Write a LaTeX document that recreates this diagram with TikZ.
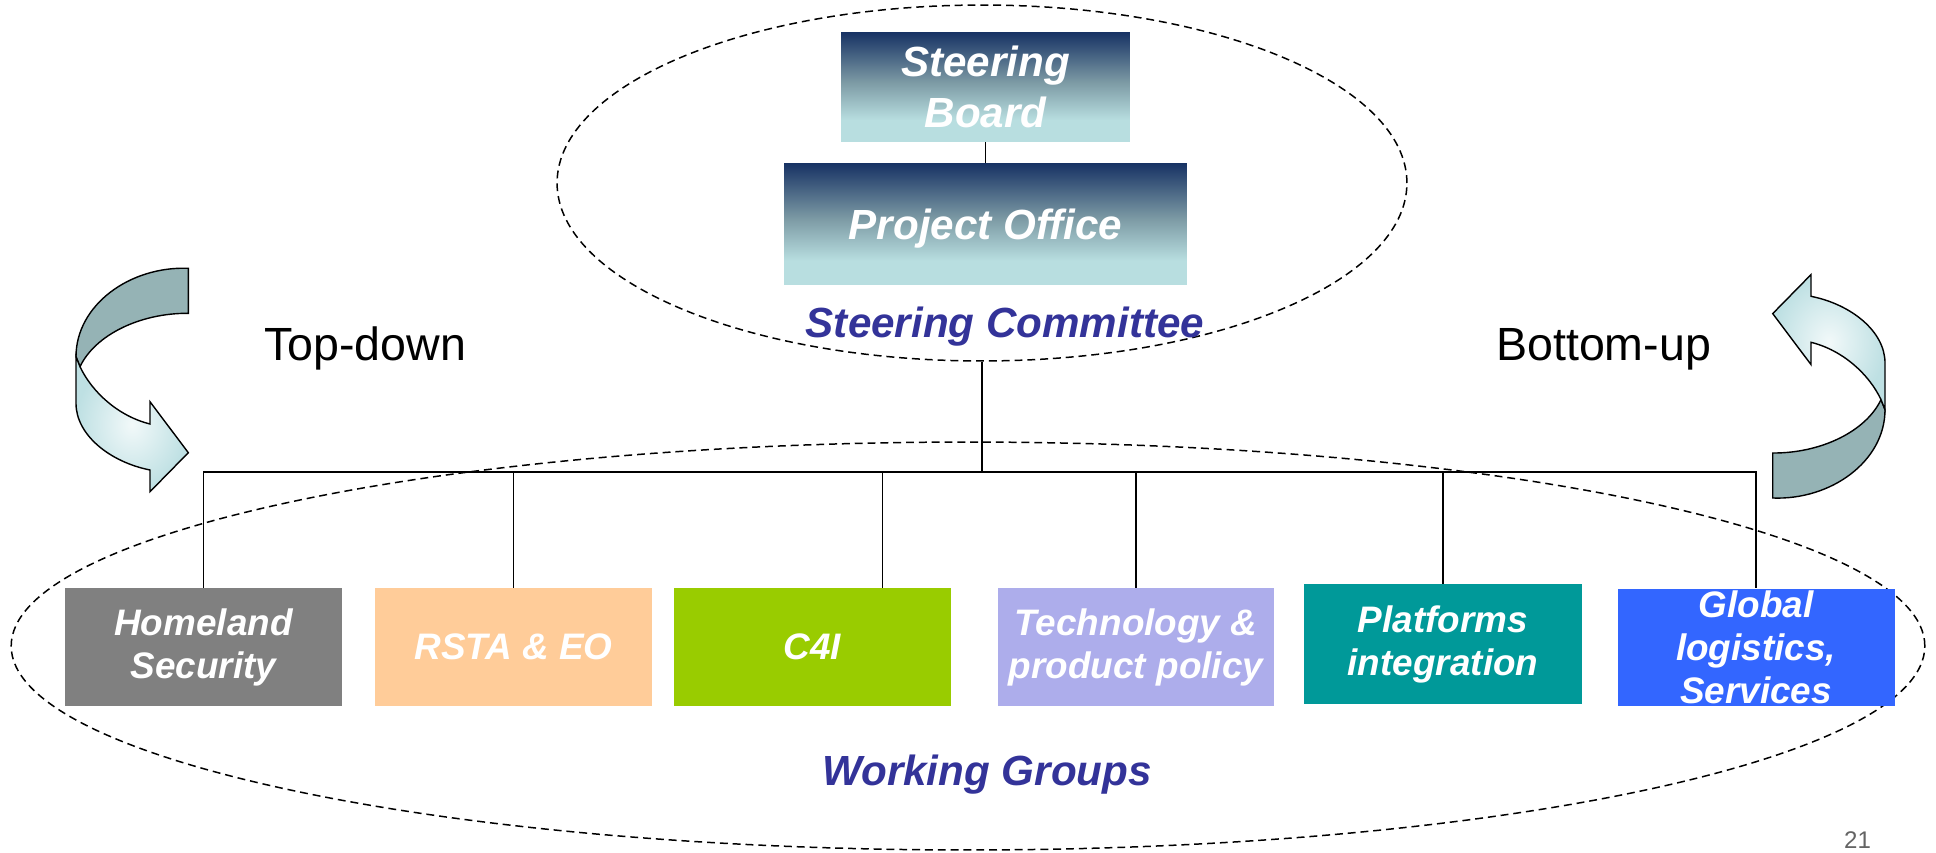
\documentclass[tikz,border=0pt]{standalone}
\usepackage{fontspec}
\setmainfont{Liberation Sans}
\usetikzlibrary{shapes.geometric,calc}
\definecolor{navyband}{RGB}{23,50,100}
\definecolor{midband}{RGB}{125,155,165}
\definecolor{paleband}{RGB}{184,222,224}
\definecolor{titleblue}{RGB}{51,51,153}
\definecolor{homegray}{RGB}{128,128,128}
\definecolor{rstaorange}{RGB}{255,204,153}
\definecolor{cgreen}{RGB}{153,204,0}
\definecolor{techlilac}{RGB}{173,173,235}
\definecolor{platteal}{RGB}{0,153,153}
\definecolor{globalblue}{RGB}{51,102,255}
\definecolor{ribbondark}{RGB}{149,179,181}
\definecolor{ribbonlight}{RGB}{190,224,227}
\definecolor{pagegray}{RGB}{100,100,100}
\pgfdeclareverticalshading{boardshade}{100bp}{color(0bp)=(paleband); color(35bp)=(paleband); color(52bp)=(midband); color(75bp)=(navyband); color(100bp)=(navyband)}

\tikzset{
    pics/twister/.style={code={
        % dark tail of the ribbon
        \filldraw[fill=ribbondark, draw=black, line width=0.8pt]
            (56.3,-112.2) .. controls (-2,-114.5) and (-56,-75.5) .. (-56,-23.8)
            -- (-52,-13.8) .. controls (-37,-45.5) and (8,-67.5) .. (56.3,-67.2) -- cycle;
        % light head with the arrow tip
        \shadedraw[inner color=white!80!ribbonlight, outer color=ribbonlight, draw=black, line width=0.8pt]
            (-56,-23.8) -- (-56,22.8) .. controls (-56,54.5) and (-22,81.5) .. (18,89.5)
            -- (18,111.2) -- (56.3,72.2) -- (18,21.2) -- (18,43.5)
            .. controls (-14,35.5) and (-40,11.5) .. (-52,-13.8) -- cycle;
    }}
}

\begin{document}
\begin{tikzpicture}[
    x=0.02cm, y=-0.02cm,
    board/.style={rectangle, shading=boardshade, text=white, font=\fontsize{24}{29}\selectfont\bfseries\itshape, align=center, inner sep=0pt},
    group/.style={rectangle, text=white, font=\fontsize{21}{24.5}\selectfont\bfseries\itshape, align=center, inner sep=0pt, minimum width=5.54cm, minimum height=2.36cm},
    ring/.style={ellipse, draw, dash pattern=on 4.5pt off 2.8pt, line width=0.85pt, inner sep=0pt},
    link/.style={draw, line width=1pt},
    caption/.style={text=titleblue, font=\fontsize{24}{28}\selectfont\bfseries\itshape},
    flow/.style={font=\fontsize{26.5}{31}\selectfont}
]
    \useasboundingbox (0,0) rectangle (1936,852);

    % dashed groupings
    \node[ring, minimum width=17cm, minimum height=7.12cm] (sc) at (982,183) {};
    \node[ring, minimum width=38.28cm, minimum height=8.16cm] (wg) at (968,646) {};

    % steering committee
    \node[board, minimum width=5.78cm, minimum height=2.2cm] (board) at (985.5,87) {Steering\\Board};
    \node[board, text depth=0pt, minimum width=8.06cm, minimum height=2.44cm] (office) at (985.5,224) {Project Office};
    \draw[link] (board) -- (office);

    % working groups
    \node[group, fill=homegray] (home) at (203.5,647) {Homeland\\Security};
    \node[group, fill=rstaorange] (rsta) at (513.5,647) {RSTA \& EO};
    \node[group, fill=cgreen] (c4i) at (812.5,647) {C4I};
    \node[group, fill=techlilac] (tech) at (1136,647) {Technology \&\\product policy};
    \node[group, fill=platteal, minimum width=5.56cm, minimum height=2.4cm] (plat) at (1443,644) {Platforms\\integration};
    \node[group, fill=globalblue] (glob) at (1756,647.5) {Global\\logistics,\\Services};

    % tree of links
    \coordinate (bus) at (982,472);
    \draw[link] (sc.south) -- (bus);
    \draw[link] (bus) -| (home.north);
    \draw[link] (bus) -| (rsta.north);
    \draw[link] (bus) -| ($(c4i.north)+(70,0)$);
    \draw[link] (bus) -| (tech.north);
    \draw[link] (bus) -| (plat.north);
    \draw[link] (bus) -| (glob.north);

    % captions
    \node[caption, anchor=base] (sctitle) at (1005,337) {Steering Committee};
    \node[caption, anchor=base] (wgtitle) at (987,785) {Working Groups};

    % direction arrows
    \pic (downturn) at (132,380.5) {twister};
    \pic[rotate=180] (upturn) at (1829,385.8) {twister};
    \node[flow, anchor=base west] (topdown) at (258,360) {Top-down};
    \node[flow, anchor=base west] (bottomup) at (1490,360) {Bottom-up};

    \node[anchor=base west, text=pagegray, font=\fontsize{13.7}{16}\selectfont] (pageno) at (1838,848) {21};
\end{tikzpicture}
\end{document}
